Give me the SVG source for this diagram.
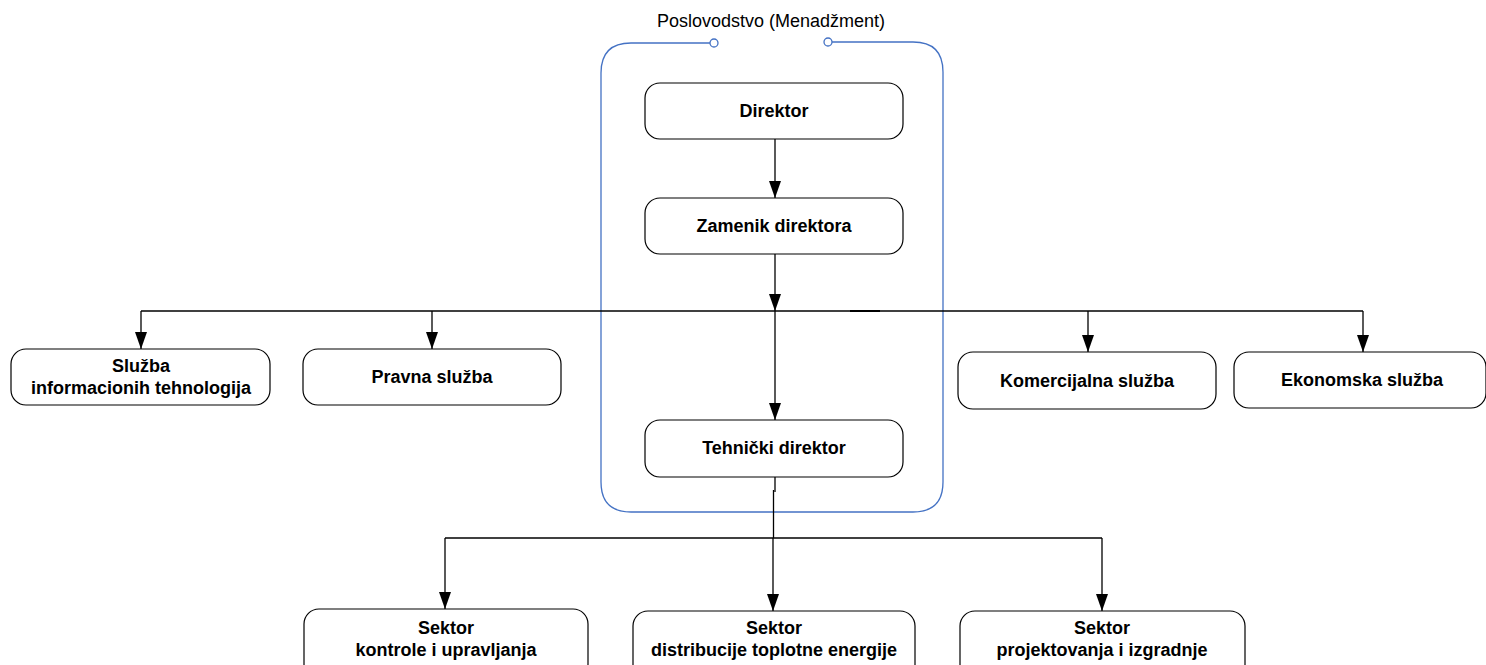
<svg xmlns="http://www.w3.org/2000/svg" width="1486" height="665" viewBox="0 0 1486 665">
<defs>
<marker id="ah" markerWidth="18" markerHeight="12" refX="17" refY="6" orient="auto" markerUnits="userSpaceOnUse" viewBox="0 0 18 12">
<path d="M0,0 L17,6 L0,12 Z" fill="#000"/>
</marker>
<style>
.box{fill:#fff;stroke:#000;stroke-width:1.2}
.t{font-family:"Liberation Sans",Arial,sans-serif;font-size:18px;font-weight:bold;text-anchor:middle;fill:#000}
.title{font-family:"Liberation Sans",Arial,sans-serif;font-size:18px;text-anchor:middle;fill:#000}
.c{fill:none;stroke:#000;stroke-width:1.3}
.ca{fill:none;stroke:#000;stroke-width:1.3;marker-end:url(#ah)}
.grp{fill:none;stroke:#4472C4;stroke-width:1.3}
</style>
</defs>
<rect width="1486" height="665" fill="#fff"/>

<g id="management">
<path class="grp" d="M710,43 L631,43 Q601,43 601,73 L601,482 Q601,512 631,512 L913,512 Q943,512 943,482 L943,72 Q943,42 913,42 L832,42"/>
<circle cx="714" cy="43" r="4" fill="#fff" stroke="#4472C4" stroke-width="1.3"/>
<circle cx="828" cy="42" r="4" fill="#fff" stroke="#4472C4" stroke-width="1.3"/>
<text class="title" x="771" y="27">Poslovodstvo (Menadžment)</text>
</g>

<g id="connectors">
<line class="ca" x1="775" y1="139" x2="775" y2="198"/>
<line class="ca" x1="775" y1="254" x2="775" y2="311"/>
<line class="c" x1="141" y1="311" x2="1363" y2="311" stroke="#333"/>
<line x1="850" y1="311" x2="880" y2="311" stroke="#000" stroke-width="2"/>
<line class="ca" x1="141" y1="311" x2="141" y2="349"/>
<line class="ca" x1="432" y1="311" x2="432" y2="349"/>
<line class="ca" x1="1088" y1="311" x2="1088" y2="352"/>
<line class="ca" x1="1363" y1="311" x2="1363" y2="352"/>
<line class="ca" x1="775" y1="311" x2="775" y2="420"/>
<line class="c" x1="775" y1="477" x2="775" y2="492"/>
<line class="c" x1="773.5" y1="490" x2="773.5" y2="538" stroke-width="1.8"/>
<line class="c" x1="445" y1="538" x2="1102" y2="538"/>
<line class="ca" x1="445" y1="538" x2="445" y2="609"/>
<line class="ca" x1="773" y1="538" x2="773" y2="611"/>
<line class="ca" x1="1102" y1="538" x2="1102" y2="611"/>
</g>

<g id="direktor">
<rect class="box" x="645" y="83" width="258" height="56" rx="15"/>
<text class="t" x="774" y="117">Direktor</text>
</g>
<g id="zamenik">
<rect class="box" x="645" y="198" width="258" height="56" rx="15"/>
<text class="t" x="774" y="232">Zamenik direktora</text>
</g>
<g id="tehnicki">
<rect class="box" x="645" y="420" width="258" height="57" rx="15"/>
<text class="t" x="774" y="454">Tehnički direktor</text>
</g>
<g id="it">
<rect class="box" x="11" y="349" width="259" height="56" rx="15"/>
<text class="t" x="141" y="372">Služba</text>
<text class="t" x="141" y="394">informacionih tehnologija</text>
</g>
<g id="pravna">
<rect class="box" x="303" y="349" width="258" height="56" rx="15"/>
<text class="t" x="432" y="383">Pravna služba</text>
</g>
<g id="komercijalna">
<rect class="box" x="958" y="352" width="258" height="57" rx="15"/>
<text class="t" x="1087" y="387">Komercijalna služba</text>
</g>
<g id="ekonomska">
<rect class="box" x="1234" y="352" width="252" height="56" rx="15"/>
<text class="t" x="1362" y="386">Ekonomska služba</text>
</g>
<g id="sektor1">
<rect class="box" x="304" y="609" width="284" height="70" rx="15"/>
<text class="t" x="446" y="634">Sektor</text>
<text class="t" x="446" y="656">kontrole i upravljanja</text>
</g>
<g id="sektor2">
<rect class="box" x="633" y="611" width="282" height="70" rx="15"/>
<text class="t" x="774" y="634">Sektor</text>
<text class="t" x="774" y="656">distribucije toplotne energije</text>
</g>
<g id="sektor3">
<rect class="box" x="960" y="611" width="285" height="70" rx="15"/>
<text class="t" x="1102" y="634">Sektor</text>
<text class="t" x="1102" y="656">projektovanja i izgradnje</text>
</g>
</svg>
